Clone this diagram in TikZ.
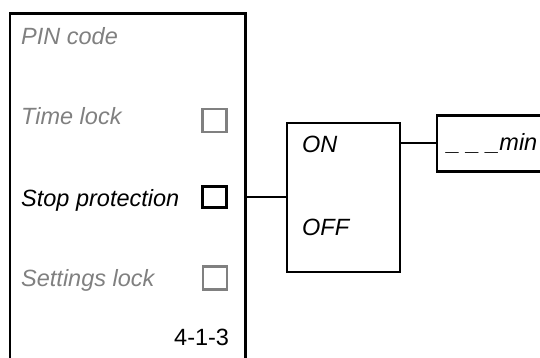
\documentclass[tikz,border=0pt]{standalone}
\usepackage{fontspec}
\setmainfont{Liberation Sans}
\usepackage{tikz}
\usetikzlibrary{positioning, calc}
\definecolor{dimgray}{RGB}{128,128,128}
\tikzset{
    % Menu panel
    menupanel/.style={rectangle, draw=none, minimum width=235pt, minimum height=346pt,
                inner sep=0pt},
    menuitem/.style={anchor=base west, inner sep=0pt, text=dimgray,
                font=\fontsize{23.5}{27}\selectfont\itshape},
    menuactive/.style={menuitem, text=black},
    menucode/.style={anchor=base west, inner sep=0pt,
                font=\fontsize{23.5}{27}\selectfont},
    chkbox/.style={rectangle, draw=dimgray, line width=2.2pt, minimum width=24pt,
                minimum height=23pt, inner sep=0pt},
    chkactive/.style={chkbox, draw=black, line width=2.4pt, minimum height=21pt},
    % Option boxes
    optbox/.style={rectangle, draw=black, line width=2.4pt, inner sep=0pt},
    openbox/.style={rectangle, draw=none, inner sep=0pt},
    % General
    wire/.style={line width=2pt},
    border/.style={line width=2.6pt},
}
\begin{document}
\begin{tikzpicture}[x=1pt, y=-1pt]
\useasboundingbox (0,0) rectangle (540,358);

\node[menupanel] (panel) at (127.5,187) {};
\draw[border] (panel.south west) -- (panel.north west) -- (panel.north east) -- (panel.south east);

\node[menuitem]   (pin)      at (21,45)  {PIN code};
\node[menuitem]   (timelock) at (21,125) {Time lock};
\node[menuactive] (stop)     at (21,206) {Stop protection};
\node[menuitem]   (setlock)  at (21,286) {Settings lock};
\node[menucode]   (code)     at (174,345) {4-1-3};

\node[chkbox]    (timechk) at (214.5,120.5) {};
\node[chkactive] (stopchk) at (214.5,197)   {};
\node[chkbox]    (setchk)  at (215,278)     {};

\node[optbox, minimum width=113pt, minimum height=149pt] (onoff) at (343.5,197.5) {};
\node[menuactive] (on)  at (302,153) {ON};
\node[menuactive] (off) at (302,235) {OFF};

\node[openbox, minimum width=103pt, minimum height=55pt] (minbox) at (488.5,143.5) {};
\draw[border] (minbox.north east) -- (minbox.north west) -- (minbox.south west) -- (minbox.south east);
\node[menuactive] (mins) at (447,150) {\_ \_ \_min};

\coordinate (tap) at (panel.east |- stopchk);
\draw[wire] (tap) -- (onoff.west |- tap);
\draw[wire] (onoff.east |- minbox) -- (minbox.west);
\end{tikzpicture}
\end{document}
